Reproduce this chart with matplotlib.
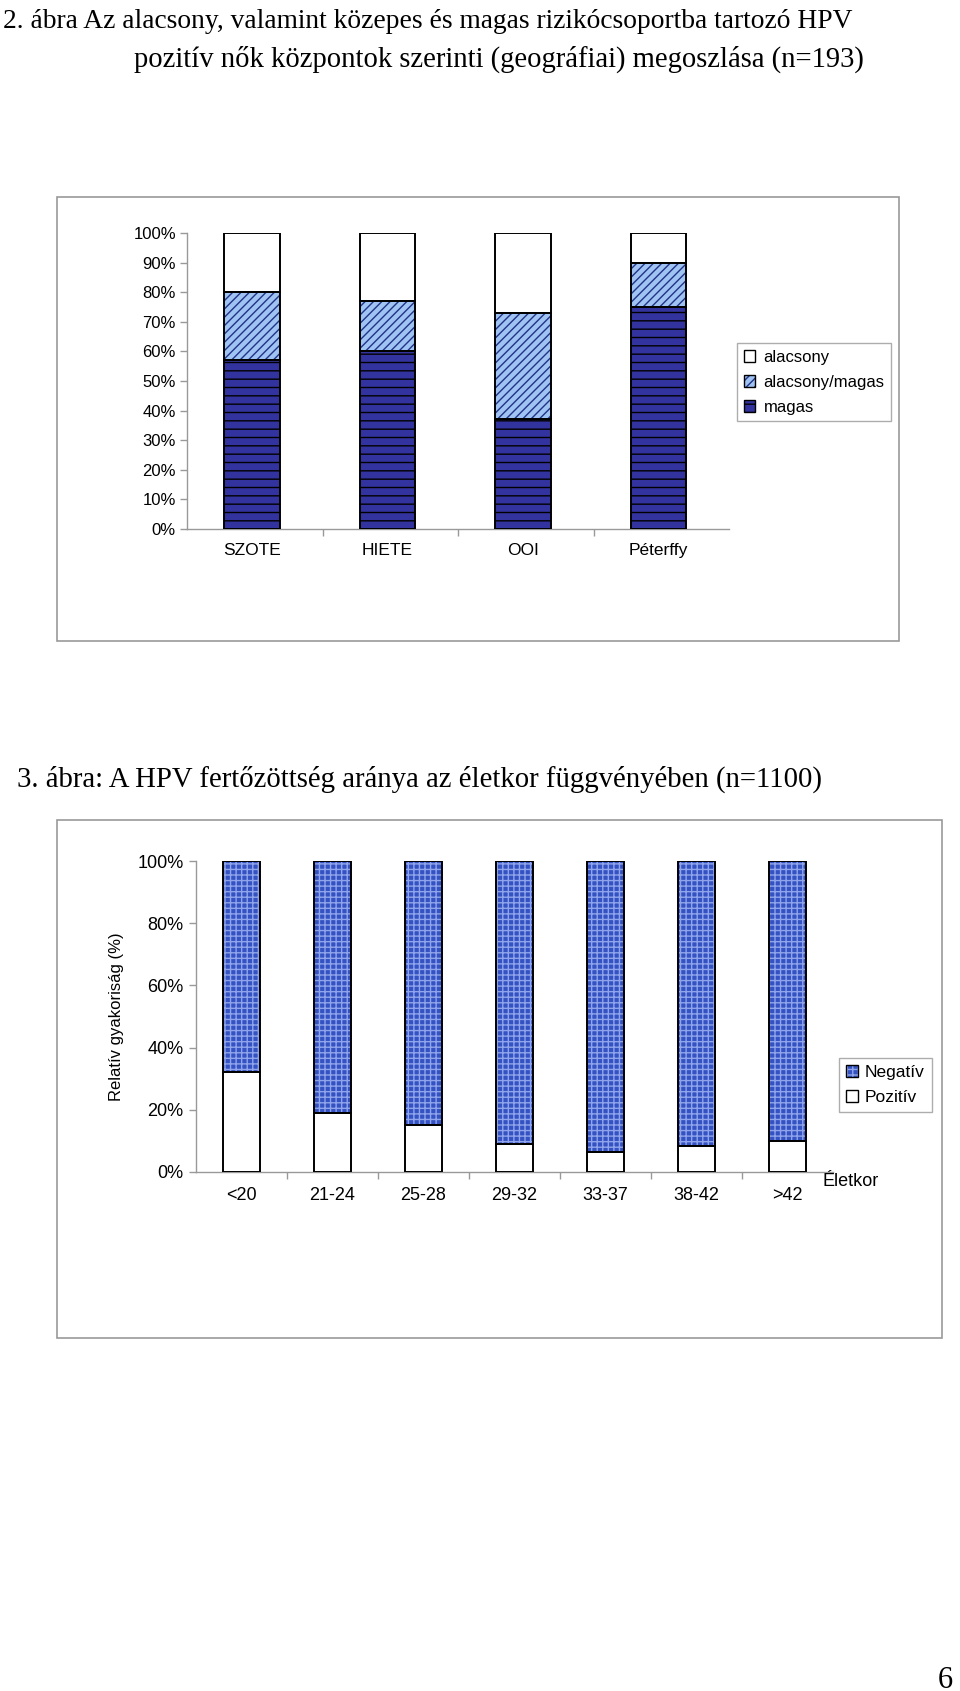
import matplotlib
matplotlib.use("Agg")
import matplotlib.pyplot as plt
from matplotlib.patches import Rectangle, Patch
from matplotlib.ticker import FixedLocator, PercentFormatter

plt.rcParams['font.family'] = ['Liberation Sans', 'DejaVu Sans']
plt.rcParams['hatch.linewidth'] = 1.0

# Figure 2 data - risk groups by centre (%)
centers = ["SZOTE", "HIETE", "OOI", "Péterffy"]
magas = [57, 60, 37, 75]
alacsony_magas = [23, 17, 36, 15]
alacsony = [20, 23, 27, 10]

# Figure 3 data - HPV positivity by age (%)
age_groups = ["<20", "21-24", "25-28", "29-32", "33-37", "38-42", ">42"]
pozitiv = [32, 19, 15, 9, 6.5, 8.5, 10]
negativ = [68, 81, 85, 91, 93.5, 91.5, 90]

W, H = 960, 1691
fig = plt.figure(figsize=(W / 100, H / 100), dpi=100)
serif = ['Liberation Serif', 'DejaVu Serif']

NEG_FACE, NEG_HATCH = '#3452c2', '#8fa4ea'


def fx(px):
    return px / W


def fy(py):
    return 1 - py / H


def hbar(ax, x, h, bottom, face, hatch=None, hcol=None, width=0.41):
    ax.bar(x, h, width, bottom=bottom, color=face, linewidth=0, zorder=2)
    if hatch:
        ax.bar(x, h, width, bottom=bottom, facecolor='none', edgecolor=hcol,
               linewidth=0, hatch=hatch, zorder=3)
    ax.bar(x, h, width, bottom=bottom, facecolor='none', edgecolor='black',
           linewidth=1.4, zorder=4)


def legend_handle(face, hatch=None, hcol=None):
    parts = [Patch(facecolor=face, linewidth=0)]
    if hatch:
        parts.append(Patch(facecolor='none', edgecolor=hcol, linewidth=0, hatch=hatch))
    parts.append(Patch(facecolor='none', edgecolor='black', linewidth=1.0))
    return tuple(parts)


def style_axis(ax):
    for s in ['top', 'right']:
        ax.spines[s].set_visible(False)
    for s in ['left', 'bottom']:
        ax.spines[s].set_color('#999999')
        ax.spines[s].set_linewidth(1.0)
    ax.tick_params(axis='y', color='#999999', length=5, width=1, direction='out')
    ax.tick_params(axis='x', which='major', length=0)
    ax.tick_params(axis='x', which='minor', color='#999999', length=5, width=1,
                   direction='out')
    ax.yaxis.set_major_formatter(PercentFormatter(decimals=0))


# frames
fig.patches.append(Rectangle((fx(57), fy(641)), fx(899 - 57), (641 - 197) / H,
                             transform=fig.transFigure, fill=False,
                             edgecolor='#999999', linewidth=1.2))
fig.patches.append(Rectangle((fx(57), fy(1338)), fx(942 - 57), (1338 - 820) / H,
                             transform=fig.transFigure, fill=False,
                             edgecolor='#999999', linewidth=1.2))

# titles
fig.text(fx(3), fy(22), "2. ábra Az alacsony, valamint közepes és magas rizikócsoportba tartozó HPV",
         family=serif, fontsize=19.8, va='center', ha='left')
fig.text(fx(134), fy(59), "pozitív nők központok szerinti (geográfiai) megoszlása (n=193)",
         family=serif, fontsize=20.6, va='center', ha='left')
fig.text(fx(17), fy(779), "3. ábra: A HPV fertőzöttség aránya az életkor függvényében (n=1100)",
         family=serif, fontsize=20.7, va='center', ha='left')
fig.text(fx(938), fy(1680), "6", family=serif, fontsize=22, va='center', ha='left')

# ---- Figure 2 ----
ax1 = fig.add_axes([fx(187), fy(529), fx(729 - 187), (529 - 233) / H])
x1 = range(len(centers))
bot2 = magas
bot3 = [a + b for a, b in zip(magas, alacsony_magas)]
hbar(ax1, x1, magas, 0, '#3333a0', '--', 'black')
hbar(ax1, x1, alacsony_magas, bot2, '#9fc3f2', '////', '#223388')
hbar(ax1, x1, alacsony, bot3, 'white')
ax1.set_xlim(-0.48, 3.52)
ax1.set_ylim(0, 100)
ax1.set_yticks(range(0, 101, 10))
ax1.set_xticks(list(x1))
ax1.set_xticklabels(centers, fontsize=12.5)
ax1.xaxis.set_minor_locator(FixedLocator([0.52, 1.52, 2.52]))
style_axis(ax1)
ax1.tick_params(axis='y', labelsize=12, pad=3)
ax1.tick_params(axis='x', which='major', pad=10)
h1 = [legend_handle('white'),
      legend_handle('#9fc3f2', '////', '#223388'),
      legend_handle('#3333a0', '--', 'black')]
fig.legend(h1, ["alacsony", "alacsony/magas", "magas"],
           loc='upper left', bbox_to_anchor=(fx(737), fy(343)),
           fontsize=12, frameon=True, fancybox=False, edgecolor='#999999',
           handlelength=0.7, handleheight=0.7, handletextpad=0.5,
           labelspacing=0.6, borderpad=0.4, borderaxespad=0)

# ---- Figure 3 ----
ax2 = fig.add_axes([fx(196), fy(1172), fx(833 - 196), (1172 - 861) / H])
x2 = range(len(age_groups))
hbar(ax2, x2, pozitiv, 0, 'white')
hbar(ax2, x2, negativ, pozitiv, NEG_FACE, '+++', NEG_HATCH)
ax2.set_xlim(-0.5, 6.5)
ax2.set_ylim(0, 100)
ax2.set_yticks(range(0, 101, 20))
ax2.set_xticks(list(x2))
ax2.set_xticklabels(age_groups, fontsize=13)
ax2.xaxis.set_minor_locator(FixedLocator([0.5, 1.5, 2.5, 3.5, 4.5, 5.5]))
style_axis(ax2)
ax2.tick_params(axis='y', labelsize=13, pad=4)
ax2.tick_params(axis='x', which='major', pad=11)
ax2.set_ylabel("Relatív gyakoriság (%)", fontsize=12)
ax2.yaxis.set_label_coords((124 - 196) / (833 - 196), 0.5)
fig.text(fx(823), fy(1182), "Életkor", fontsize=13, va='center', ha='left')
h2 = [legend_handle(NEG_FACE, '+++', NEG_HATCH), legend_handle('white')]
fig.legend(h2, ["Negatív", "Pozitív"],
           loc='upper left', bbox_to_anchor=(fx(839), fy(1058)),
           fontsize=12.5, frameon=True, fancybox=False, edgecolor='#999999',
           handlelength=0.7, handleheight=0.7, handletextpad=0.4,
           labelspacing=0.55, borderpad=0.4, borderaxespad=0)

fig.savefig("out.png", dpi=100)
